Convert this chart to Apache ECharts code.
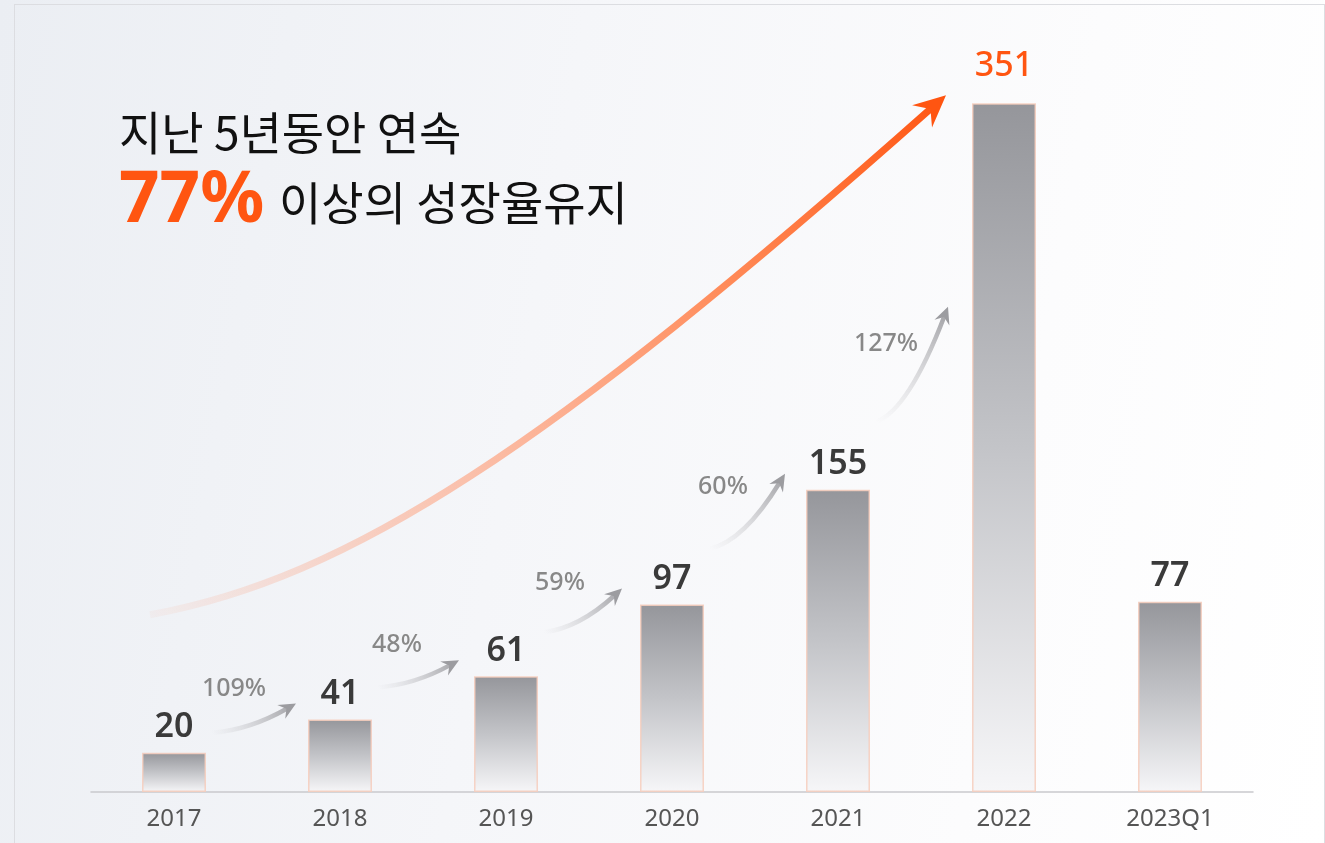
<!DOCTYPE html>
<html>
<head>
<meta charset="utf-8">
<script src="https://cdn.jsdelivr.net/npm/echarts@6/dist/echarts.min.js"></script>
<style>
  html, body { margin: 0; padding: 0; }
  body {
    width: 1325px; height: 843px; overflow: hidden; position: relative;
    background: linear-gradient(100deg, #ebeef3 0%, #f5f6f9 40%, #fcfcfd 75%, #ffffff 100%);
  }
  #frame { position: absolute; left: 14px; top: 4px; width: 1311px; height: 860px; border: 1px solid #dcdde1; box-sizing: border-box; }
  #chart { position: absolute; left: 0; top: 0; width: 1325px; height: 843px; }
</style>
</head>
<body>
<div id="frame"></div>
<div id="chart"></div>
<script>
// 연도별 값 (라벨)
var years = ['2017', '2018', '2019', '2020', '2021', '2022', '2023Q1'];
var sales = [20, 41, 61, 97, 155, 351, 77];
// 그림에서 읽은 막대 높이 (2023Q1 막대는 라벨보다 높게 그려져 있음)
var barLevels = [20, 37, 59, 95.5, 154, 351, 97];
// 전년 대비 성장률 (2017→2018 ... 2021→2022)
var growth = [109, 48, 59, 60, 127];
var highlightIndex = 5;

var ORANGE = '#ff5511';

var chart = echarts.init(document.getElementById('chart'));

// 화살촉 그리기
function arrowHead(tip, ctrl, len, half, color) {
  var ux = tip[0] - ctrl[0], uy = tip[1] - ctrl[1];
  var d = Math.sqrt(ux * ux + uy * uy);
  ux /= d; uy /= d;
  var nx = -uy, ny = ux;
  var bx = tip[0] - ux * len, by = tip[1] - uy * len;
  var mx = tip[0] - ux * len * 0.65, my = tip[1] - uy * len * 0.65;
  return {
    head: {
      type: 'polygon',
      shape: { points: [tip, [bx + nx * half, by + ny * half], [mx, my], [bx - nx * half, by - ny * half]] },
      style: { fill: color }
    },
    end: [tip[0] - ux * len * 0.6, tip[1] - uy * len * 0.6]
  };
}

// 회색 성장률 화살표
function renderGrowth(params, api) {
  var i = api.value(0);
  var a = api.coord([i, api.value(1)]);
  var b = api.coord([i + 1, api.value(2)]);
  var sx = a[0] + 38, sy = a[1] - 20 - 12 * i;
  var tx = b[0] - 44 - 3 * i, ty = Math.max(b[1] - 16, sy - 115);
  var dx = tx - sx, dy = sy - ty;
  var cx = sx + 0.45 * dx, cy = sy - 0.1 * dy;
  var h = arrowHead([tx, ty], [cx, cy], 17, 8, '#9c9ca0');
  return {
    type: 'group',
    children: [{
      type: 'bezierCurve',
      shape: { x1: sx, y1: sy, x2: h.end[0], y2: h.end[1], cpx1: cx, cpy1: cy },
      style: {
        fill: null, lineWidth: 4.5,
        stroke: new echarts.graphic.LinearGradient(sx, sy, tx, ty, [
          { offset: 0, color: 'rgba(200,200,204,0)' },
          { offset: 1, color: '#9c9ca0' }
        ], true)
      }
    }, h.head, {
      type: 'text',
      x: tx - 62, y: ty + 0.6 * dy - 32,
      style: {
        text: api.value(3) + '%', fill: '#888', fontSize: 25, fontWeight: 500,
        fontFamily: 'Noto Sans', align: 'center', verticalAlign: 'middle'
      }
    }]
  };
}

// 주황색 추세 화살표
function renderTrend(params, api) {
  var a = api.coord([api.value(0), api.value(1)]);
  var b = api.coord([api.value(2), api.value(3)]);
  var sx = a[0] - 24, sy = a[1] - 138;
  var tx = b[0] - 58, ty = b[1] - 8;
  var dx = tx - sx, dy = sy - ty;
  var c1x = sx + 0.25 * dx, c1y = sy - 0.07 * dy;
  var c2x = sx + 0.5 * dx, c2y = sy - 0.32 * dy;
  var h = arrowHead([tx, ty], [c2x, c2y], 32, 15, ORANGE);
  return {
    type: 'group',
    children: [{
      type: 'bezierCurve',
      shape: { x1: sx, y1: sy, x2: h.end[0], y2: h.end[1], cpx1: c1x, cpy1: c1y, cpx2: c2x, cpy2: c2y },
      style: {
        fill: null, lineWidth: 7,
        stroke: new echarts.graphic.LinearGradient(sx, sy, tx, ty, [
          { offset: 0, color: 'rgba(255,140,100,0.05)' },
          { offset: 0.35, color: 'rgba(255,150,110,0.55)' },
          { offset: 0.7, color: '#ff8a58' },
          { offset: 1, color: ORANGE }
        ], true)
      }
    }, h.head]
  };
}

var growthData = growth.map(function (g, i) { return [i, barLevels[i], barLevels[i + 1], g]; });

var barData = barLevels.map(function (v, i) {
  var item = { value: v, label: { formatter: String(sales[i]) } };
  if (i === highlightIndex) {
    item.label.color = ORANGE;
    item.label.fontWeight = 500;
    item.label.distance = 20;
  }
  return item;
});

var option = {
  animation: false,
  title: [{
    text: '지난 5년동안 연속',
    left: 114, top: 103,
    textStyle: { fontSize: 46, fontWeight: 'normal', color: '#111', fontFamily: 'Noto Sans CJK KR', lineHeight: 50 }
  }, {
    text: '77%',
    left: 114, top: 161,
    textStyle: { fontSize: 71, fontWeight: 'bold', color: ORANGE, fontFamily: 'Noto Sans', lineHeight: 71 }
  }, {
    text: '이상의 성장율유지',
    left: 274, top: 175,
    textStyle: { fontSize: 46, fontWeight: 'normal', color: '#111', fontFamily: 'Noto Sans CJK KR', lineHeight: 46 }
  }],
  grid: { left: 91, right: 72, top: 7, bottom: 51, outerBoundsMode: 'none' },
  xAxis: {
    type: 'category',
    data: years,
    axisTick: { show: false },
    axisLine: { lineStyle: { color: '#c9c9cd', width: 1.5 } },
    axisLabel: { fontSize: 24, color: '#555', margin: 15, fontFamily: 'Noto Sans' }
  },
  yAxis: { type: 'value', min: 0, max: 400, show: false },
  series: [{
    type: 'bar',
    data: barData,
    barWidth: 64,
    itemStyle: {
      color: new echarts.graphic.LinearGradient(0, 0, 0, 1, [
        { offset: 0, color: '#95969b' },
        { offset: 0.5, color: '#c3c4c8' },
        { offset: 1, color: '#f6f6f8' }
      ]),
      borderColor: 'rgba(246,205,188,0.85)',
      borderWidth: 1.5
    },
    label: {
      show: true, position: 'top', distance: 8,
      fontSize: 34, fontWeight: 600, color: '#3a3a3a', fontFamily: 'Noto Sans'
    },
    z: 2
  }, {
    type: 'custom',
    data: growthData,
    renderItem: renderGrowth,
    encode: { x: 0, y: 1 },
    clip: false,
    z: 3
  }, {
    type: 'custom',
    data: [[0, barLevels[0], highlightIndex, barLevels[highlightIndex]]],
    renderItem: renderTrend,
    encode: { x: 0, y: 1 },
    clip: false,
    z: 1
  }]
};

chart.setOption(option);
</script>
</body>
</html>
